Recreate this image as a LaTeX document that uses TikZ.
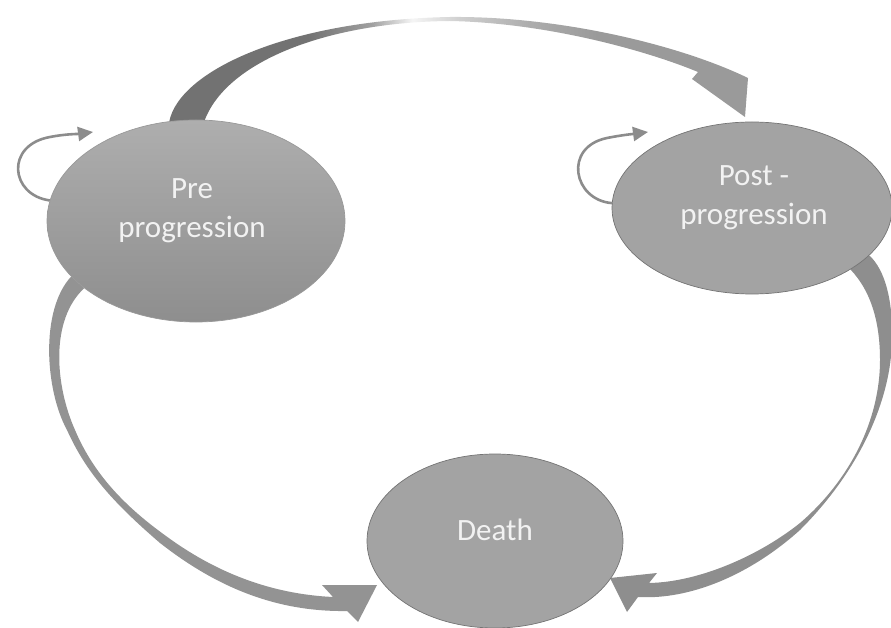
\documentclass[tikz,border=0pt]{standalone}
\usepackage{fontspec}
\setmainfont{Carlito}
\usetikzlibrary{arrows.meta,shapes.geometric}
\pgfdeclarelayer{background}
\pgfsetlayers{background,main}
\definecolor{arcdark}{HTML}{727272}
\definecolor{arcmid}{HTML}{A0A0A0}
\definecolor{arcwhite}{HTML}{F5F5F5}
\definecolor{arclight}{HTML}{D0D0D0}
\definecolor{arclight2}{HTML}{ADADAD}
\definecolor{arcright}{HTML}{9A9A9A}
\definecolor{leftarc}{HTML}{939393}
\definecolor{rightarc}{HTML}{8E8E8E}
\definecolor{loopgray}{HTML}{8C8C8C}
\definecolor{statefill}{HTML}{A3A3A3}
\definecolor{stateline}{HTML}{747474}
\definecolor{pretop}{HTML}{AEAEAE}
\definecolor{prebot}{HTML}{8E8E8E}
\definecolor{labeltext}{HTML}{F2F2F2}
\pgfdeclarehorizontalshading{toparc}{100bp}{color(0bp)=(arcdark); color(37bp)=(arcdark); color(42.5bp)=(arcmid); color(46bp)=(arcwhite); color(50bp)=(arclight); color(56bp)=(arclight2); color(62bp)=(arcright); color(100bp)=(arcright)}
\begin{document}
\begin{tikzpicture}[x=1pt,y=-1pt,
  state/.style={ellipse, inner sep=0pt, draw=stateline, line width=0.7pt},
  lbl/.style={font=\fontsize{31}{39}\selectfont, text=labeltext, align=center, inner sep=0pt},
  selfloop/.style={draw=loopgray, line width=2.6pt, -{Triangle[length=15pt,width=14pt]}},
  leftbody/.style={fill=leftarc},
  rightbody/.style={fill=rightarc}]
\useasboundingbox (0,0) rectangle (891,628);

\node[state, minimum width=298pt, minimum height=202pt, top color=pretop, bottom color=prebot, draw=prebot!90] (pre) at (196,221) {};
\node[state, minimum width=280pt, minimum height=172pt, fill=statefill] (post) at (752,208) {};
\node[state, minimum width=256pt, minimum height=174pt, fill=statefill] (death) at (495,541) {};

\node[lbl, anchor=base] (prelbl) at (192,238) {Pre\\progression};
\node[lbl, anchor=base] (postlbl) at (754,225) {Post -\\progression};
\node[lbl, anchor=base] (deathlbl) at (495,540) {Death};

\coordinate (pretip) at (93,132);
\coordinate (posttip) at (648,132);

\begin{pgfonlayer}{background}
% Pre -> Post
\shade[shading=toparc] (pre.105) .. controls (180,70) and (290,20) .. (450,17)
  .. controls (560,16) and (680,45) .. (748,78) -- (745,117) -- (692,79) -- (698,72)
  .. controls (650,52) and (550,23) .. (450,21)
  .. controls (330,22) and (228,60) .. (pre.85) -- cycle;
% Pre -> Death
\fill[leftbody] (pre.204) .. controls (40,310) and (45,390) .. (67,430)
  .. controls (85,470) and (110,500) .. (160,543)
  .. controls (220,590) and (280,612) .. (347,611) -- (358,622) -- (377,585) -- (322,585) -- (333,597)
  .. controls (270,594) and (215,572) .. (166,536)
  .. controls (120,503) and (92,470) .. (75,430)
  .. controls (55,385) and (50,320) .. (pre.211) -- cycle;
% Post -> Death
\fill[rightbody] (post.338) .. controls (885,270) and (893,300) .. (892,340)
  .. controls (891,400) and (860,470) .. (800,530)
  .. controls (750,575) and (690,600) .. (638,597) -- (627,612) -- (610,578) -- (657,573) -- (649,583)
  .. controls (700,582) and (760,555) .. (800,523)
  .. controls (850,480) and (880,420) .. (880,360)
  .. controls (880,320) and (870,290) .. (post.328) -- cycle;
\end{pgfonlayer}

% self loops
\draw[selfloop] (pre.172) .. controls (10,195) and (5,145) .. (50,137) .. controls (65,134) and (78,134) .. (pretip);
\draw[selfloop] (post.178) .. controls (573,200) and (563,147) .. (607,138) .. controls (622,135) and (633,134) .. (posttip);
\end{tikzpicture}
\end{document}
